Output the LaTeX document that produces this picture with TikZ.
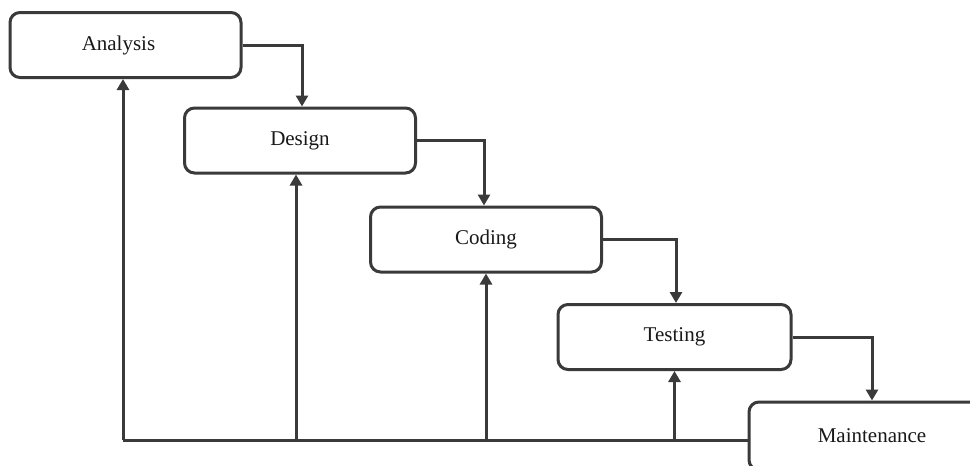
\documentclass[tikz,border=0pt]{standalone}
\usepackage{fontspec}
\setmainfont{Liberation Serif}
\usetikzlibrary{arrows.meta}
\definecolor{ln}{HTML}{3A3A3A}
\tikzset{
  stage/.style={draw=ln, line width=3pt, rounded corners=10pt, fill=white,
    minimum width=231pt, minimum height=65pt, inner sep=0pt,
    font=\fontsize{21}{25}\selectfont, text=black!90},
  link/.style={draw=ln, line width=3pt},
  arr/.style={link, -{Triangle[length=11pt,width=12pt]}}
}
\begin{document}
\begin{tikzpicture}[x=1pt,y=-1pt]
\clip (0,0) rectangle (970,466);
\fill[white] (0,0) rectangle (970,466);
\node[stage] (A) at (125.5,45) {\hspace*{-14pt}Analysis};
\node[stage] (D) at (300,140.5) {Design};
\node[stage] (C) at (486,239.5) {Coding};
\node[stage, minimum width=233pt] (T) at (674.5,337) {Testing};
\node[stage, minimum width=246pt, minimum height=68pt] (M) at (872,436) {Maintenance};
\draw[arr] (A.east) -| ([xshift=2pt]D.north);
\draw[arr] (D.east) -| ([xshift=-2pt]C.north);
\draw[arr] (C.east) -| ([xshift=1.5pt]T.north);
\draw[arr] (T.east) -| (M.north);
\coordinate (bl) at (123,440);
\draw[link] ([yshift=-4pt]M.west) -- (bl);
\draw[arr] (bl) -- (bl |- A.south);
\draw[arr] ([xshift=-4pt]D.south |- bl) -- ([xshift=-4pt]D.south);
\draw[arr] (C.south |- bl) -- (C.south);
\draw[arr] (T.south |- bl) -- (T.south);
\end{tikzpicture}
\end{document}
